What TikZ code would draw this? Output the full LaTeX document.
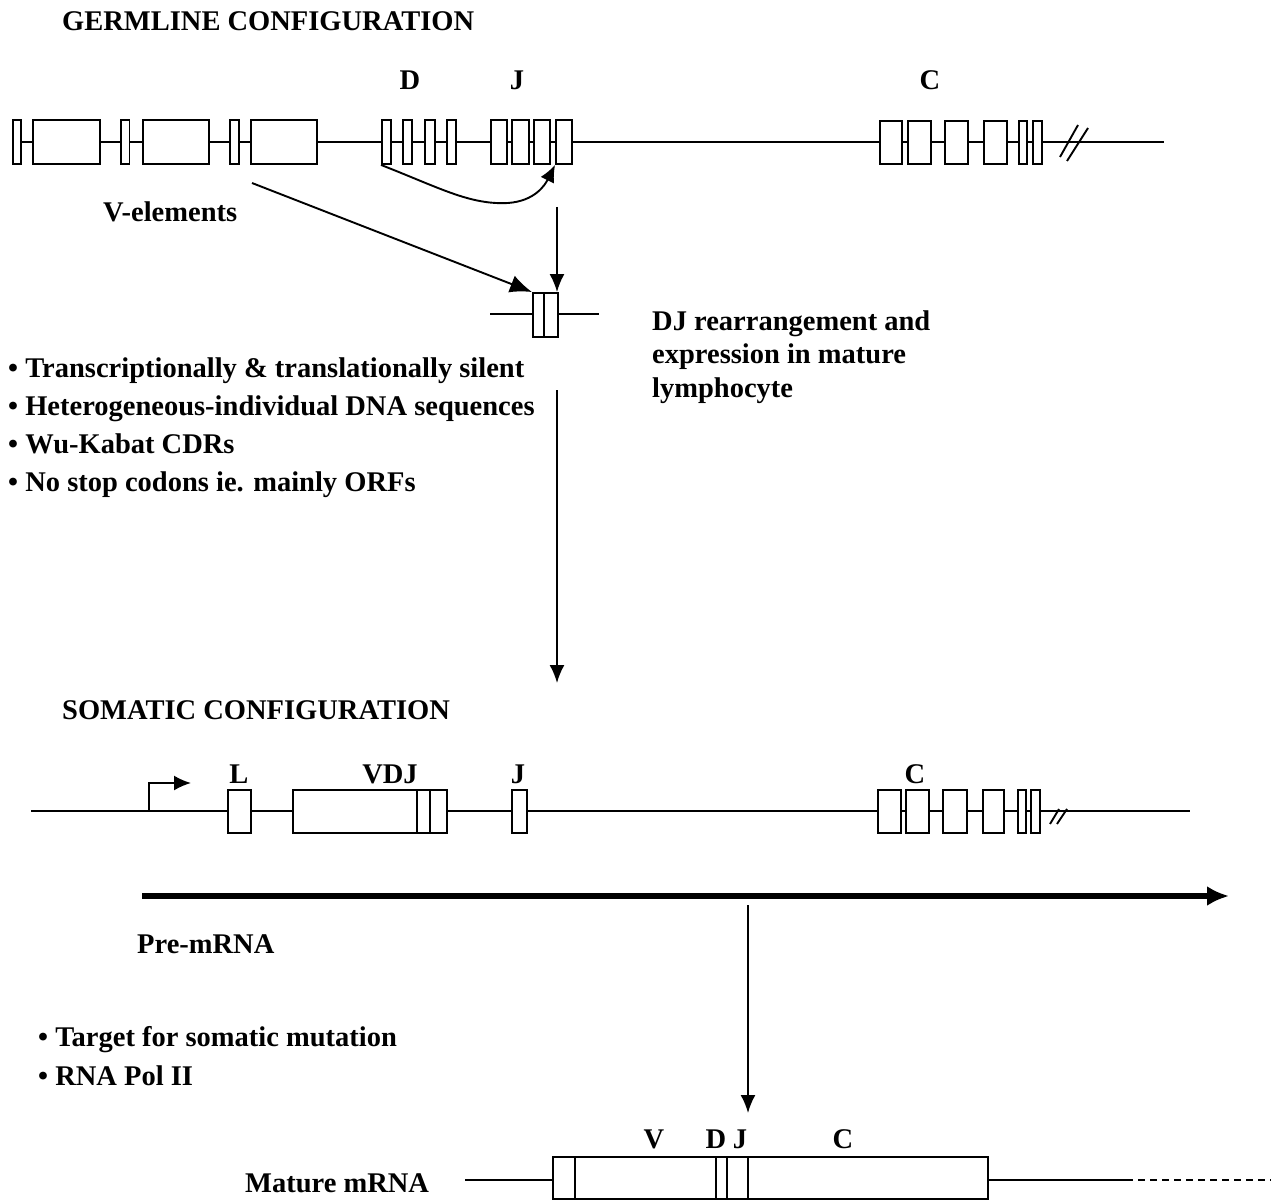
\documentclass[tikz,border=0pt]{standalone}
\usepackage{fontspec}
\setmainfont{Liberation Serif}
\usetikzlibrary{arrows.meta}
\newcommand\exonbox[5]{\node[exon, minimum width={(#3-#2)*1pt}, minimum height={#5*1pt}] (#1) at ({(#2+#3)/2},#4) {};}
\begin{document}
\begin{tikzpicture}[x=1pt,y=-1pt,
  exon/.style={draw, fill=white, line width=1.9pt, inner sep=0pt},
  lab/.style={font=\fontsize{28.5}{34}\selectfont\bfseries, inner sep=0pt},
  wire/.style={line width=1.9pt},
  arr/.style={line width=1.9pt, -{Latex[length=18pt,width=15pt]}},
  bigarr/.style={line width=6pt, -{Latex[length=22pt,width=20pt]}}]
\useasboundingbox (0,0) rectangle (1271,1201);

% ---------- Germline ----------
\node[lab, anchor=base west] (tg) at (62,30.5) {GERMLINE CONFIGURATION};
\coordinate (gs) at (13,142);
\coordinate (ge) at (1164,142);
\draw[wire] (gs) -- (ge);
\draw[wire] (1060,157) -- (1078,125);
\draw[wire] (1067,161) -- (1088,128);
\exonbox{g1}{13}{21}{142}{44}
\exonbox{g2}{33}{100}{142}{44}
\exonbox{g3}{121}{129.5}{142}{44}
\exonbox{g4}{143}{209}{142}{44}
\exonbox{g5}{230}{238.7}{142}{44}
\exonbox{g6}{251}{317}{142}{44}
\exonbox{d1}{382}{391}{142}{44}
\exonbox{d2}{403}{412}{142}{44}
\exonbox{d3}{425}{435}{142}{44}
\exonbox{d4}{447}{456}{142}{44}
\exonbox{j1}{491}{507}{142}{44}
\exonbox{j2}{512}{529}{142}{44}
\exonbox{j3}{534}{550}{142}{44}
\exonbox{j4}{556}{572}{142}{44}
\exonbox{c1}{880}{902}{142.5}{43}
\exonbox{c2}{908}{931}{142.5}{43}
\exonbox{c3}{945}{968}{142.5}{43}
\exonbox{c4}{984}{1007}{142.5}{43}
\exonbox{c5}{1019}{1027}{142.5}{43}
\exonbox{c6}{1033}{1042}{142.5}{43}
\node[lab, anchor=base] (lD) at (410,90) {D};
\node[lab, anchor=base] (lJ) at (517,90) {J};
\node[lab, anchor=base] (lC) at (930,90) {C};

% DJ recombination arrow
\draw[line width=1.9pt, -{Latex[length=17pt,width=15pt]}] (d1.south west) .. controls (440,188) and (470,205) .. (508,203) .. controls (535,201) and (545,185) .. (j4.south west);

\node[lab, anchor=base west] (vel) at (103,222) {V-elements};
\coordinate (va) at (252,183);

% rearranged DJ
\coordinate (ms) at (490,314);
\coordinate (me) at (599,314);
\draw[wire] (ms) -- (me);
\exonbox{dj}{533}{558}{315}{44}
\draw[wire] (544,293) -- (544,337);
\draw[line width=1.9pt, -{Latex[length=22pt,width=18pt]}] (va) -- (dj.north west);
\coordinate (a1s) at (557,207);
\draw[arr] (a1s) -- (dj.north -| a1s);

\node[lab, anchor=base west] (t1) at (652,330) {DJ rearrangement and};
\node[lab, anchor=base west] (t2) at (652,363.5) {expression in mature};
\node[lab, anchor=base west] (t3) at (652,397) {lymphocyte};

\node[lab, anchor=base west] (b1) at (8,377) {• Transcriptionally \& translationally silent};
\node[lab, anchor=base west] (b2) at (8,415) {• Heterogeneous-individual DNA sequences};
\node[lab, anchor=base west] (b3) at (8,453) {• Wu-Kabat CDRs};
\node[lab, anchor=base west] (b4) at (8,491) {• No stop codons ie. mainly ORFs};

\coordinate (a2s) at (557,390);
\coordinate (a2e) at (557,683);
\draw[arr] (a2s) -- (a2e);

% ---------- Somatic ----------
\node[lab, anchor=base west] (ts) at (62,719) {SOMATIC CONFIGURATION};
\coordinate (ss) at (31,811);
\coordinate (se) at (1190,811);
\draw[wire] (ss) -- (se);
\coordinate (p0) at (149,811);
\coordinate (p1) at (149,783);
\coordinate (p2) at (191,783);
\draw[line width=1.9pt, -{Latex[length=17pt,width=15pt]}] (p0) -- (p1) -- (p2);
\draw[wire] (1050,824) -- (1059,809);
\draw[wire] (1057,824) -- (1067,809);
\exonbox{sL}{228}{251}{811.5}{43}
\exonbox{sV}{293}{447}{811.5}{43}
\draw[wire] (417,790) -- (417,833);
\draw[wire] (430,790) -- (430,833);
\exonbox{sJ}{512}{527}{811.5}{43}
\exonbox{s1}{878}{901}{811.5}{43}
\exonbox{s2}{906}{929}{811.5}{43}
\exonbox{s3}{943}{967}{811.5}{43}
\exonbox{s4}{983}{1004}{811.5}{43}
\exonbox{s5}{1018}{1026}{811.5}{43}
\exonbox{s6}{1031}{1040}{811.5}{43}
\node[lab, anchor=base] (sl1) at (239,783) {L};
\node[lab, anchor=base] (sl2) at (390,783) {VDJ};
\node[lab, anchor=base] (sl3) at (518,783) {J};
\node[lab, anchor=base] (sl4) at (915,783) {C};

% pre-mRNA
\coordinate (ps) at (142,896);
\coordinate (pe) at (1229,896);
\draw[bigarr] (ps) -- (pe);
\node[lab, anchor=base west] (pre) at (137,953) {Pre-mRNA};

\node[lab, anchor=base west] (b5) at (38,1046) {• Target for somatic mutation};
\node[lab, anchor=base west] (b6) at (38,1085) {• RNA Pol II};

\coordinate (a3s) at (748,905);
\coordinate (a3e) at (748,1113);
\draw[arr] (a3s) -- (a3e);

% ---------- Mature mRNA ----------
\node[lab, anchor=base west] (mat) at (245,1192) {Mature mRNA};
\coordinate (ml) at (465,1180);
\coordinate (mr1) at (1126,1180);
\coordinate (mr2) at (1271,1180);
\exonbox{mb}{553}{988}{1178}{42}
\draw[wire] (ml) -- (mb.west |- ml);
\draw[wire] (mb.east |- mr1) -- (mr1);
\draw[wire, dash pattern=on 7pt off 5pt] (mr1) -- (mr2);
\draw[wire] (575,1157) -- (575,1199);
\draw[wire] (716,1157) -- (716,1199);
\draw[wire] (727,1157) -- (727,1199);
\draw[wire] (748,1157) -- (748,1199);
\node[lab, anchor=base] (mV) at (654,1148) {V};
\node[lab, anchor=base] (mD) at (716,1148) {D};
\node[lab, anchor=base] (mJ) at (740,1148) {J};
\node[lab, anchor=base] (mC) at (843,1148) {C};
\end{tikzpicture}
\end{document}
